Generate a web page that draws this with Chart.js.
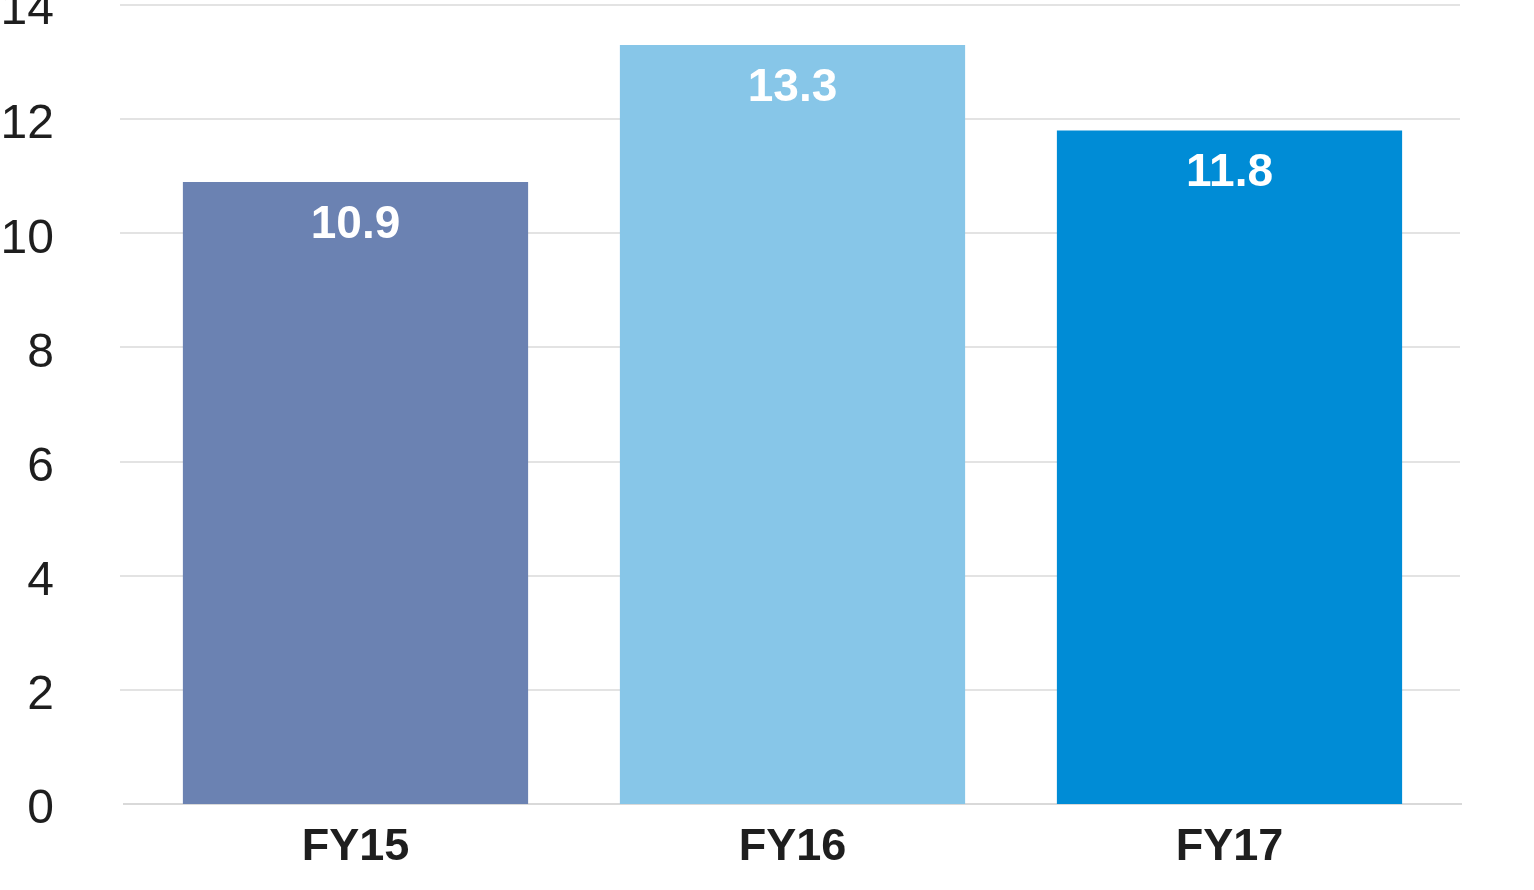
<!DOCTYPE html>
<html>
<head>
<meta charset="utf-8">
<script src="https://cdn.jsdelivr.net/npm/chart.js@4/dist/chart.umd.min.js"></script>
<style>
  html, body { margin: 0; padding: 0; background: #fff; overflow: hidden; }
  #wrap { position: absolute; left: 0; top: -40px; width: 1534px; height: 933px; }
  canvas { display: block; }
</style>
</head>
<body>
<div id="wrap"><canvas id="c" width="1534" height="933"></canvas></div>
<script>
const categories = ['FY15', 'FY16', 'FY17'];
const values = [10.9, 13.3, 11.8];
const barColors = ['#6b82b2', '#87c6e8', '#008cd6'];
const yTicks = [0, 2, 4, 6, 8, 10, 12, 14];

const FONT = "'Liberation Sans', Arial, Helvetica, sans-serif";

const gridPlugin = {
  id: 'wideGrid',
  beforeDatasetsDraw(chart) {
    const ctx = chart.ctx;
    const y = chart.scales.y;
    ctx.save();
    y.ticks.forEach(t => {
      const py = Math.round(y.getPixelForValue(t.value));
      ctx.beginPath();
      if (t.value === 0) {
        ctx.strokeStyle = '#d9d9d9';
        ctx.lineWidth = 2;
        ctx.moveTo(123, py);
        ctx.lineTo(1462, py);
      } else {
        ctx.strokeStyle = '#e3e3e3';
        ctx.lineWidth = 2;
        ctx.moveTo(120, py);
        ctx.lineTo(1460, py);
      }
      ctx.stroke();
    });
    ctx.restore();
  }
};

const labelPlugin = {
  id: 'barLabels',
  afterDatasetsDraw(chart) {
    const ctx = chart.ctx;
    const meta = chart.getDatasetMeta(0);
    ctx.save();
    ctx.fillStyle = '#ffffff';
    ctx.font = "bold 46px " + FONT;
    ctx.textAlign = 'center';
    ctx.textBaseline = 'middle';
    meta.data.forEach((bar, i) => {
      ctx.fillText(values[i].toFixed(1), bar.x, bar.y + 43);
    });
    ctx.restore();
  }
};

new Chart(document.getElementById('c'), {
  type: 'bar',
  data: {
    labels: categories,
    datasets: [{
      data: values,
      backgroundColor: barColors,
      borderWidth: 0,
      barPercentage: 0.79,
      categoryPercentage: 1.0
    }]
  },
  options: {
    responsive: false,
    animation: false,
    devicePixelRatio: 1,
    layout: { padding: { top: 45, right: 86, bottom: 1, left: 0 } },
    plugins: { legend: { display: false }, tooltip: { enabled: false } },
    scales: {
      x: {
        grid: { display: false, drawTicks: false },
        border: { display: false },
        ticks: {
          padding: 17,
          color: '#1e1e1e',
          font: { family: FONT, size: 45, weight: 'bold' }
        }
      },
      y: {
        min: 0,
        max: 14,
        afterBuildTicks(scale) {
          scale.ticks = yTicks.map(v => ({ value: v }));
        },
        afterFit(scale) {
          scale.width = 137;
          scale.paddingTop = 0;
          scale.paddingBottom = 0;
        },
        grid: { display: false, drawTicks: false },
        border: { display: false },
        ticks: {
          padding: 83,
          labelOffset: 6,
          color: '#1e1e1e',
          font: { family: FONT, size: 48, weight: 'normal' }
        }
      }
    }
  },
  plugins: [gridPlugin, labelPlugin]
});
</script>
</body>
</html>
